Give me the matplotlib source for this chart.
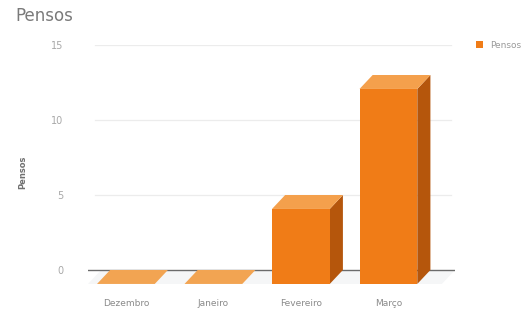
import matplotlib
matplotlib.use("Agg")
import matplotlib.pyplot as plt
from matplotlib.patches import Polygon, Patch

# ---- data ----
categories = ["Dezembro", "Janeiro", "Fevereiro", "Março"]
values = [0, 0, 5, 13]
series_name = "Pensos"
y_ticks = [0, 5, 10, 15]
title = "Pensos"
y_label = "Pensos"

# ---- style ----
W, H, DPI = 529, 312, 100
BAR_W = 0.66
DX = 0.15      # depth offset (category units)
DY = 0.93      # depth offset (value units)
C_FRONT = "#F07C17"
C_TOP = "#F4A04C"
C_SIDE = "#B5560C"
C_FLAT = "#F2A452"

fig = plt.figure(figsize=(W / DPI, H / DPI), dpi=DPI)
fig.patch.set_facecolor("white")

ax = fig.add_axes([88 / W, 1 - 291 / H, (455 - 88) / W, (291 - 45) / H])
ax.set_xlim(-0.583, 3.611)
ax.set_ylim(-1.4, 15)
for s in ax.spines.values():
    s.set_visible(False)
ax.set_facecolor("none")

# gridlines
for t in y_ticks[1:]:
    ax.axhline(t, xmin=0.02, xmax=0.99, color="#ececec", lw=0.9, zorder=0)

# floor
x0, x1 = ax.get_xlim()
floor = Polygon([(x0 + DX, 0), (x1, 0), (x1 - DX, -DY), (x0, -DY)],
                closed=True, facecolor="#f5f6f7", edgecolor="none", zorder=0.5)
ax.add_patch(floor)
ax.axhline(0, color="#6b6b6b", lw=1.0, zorder=1)

# bars
for i, v in enumerate(values):
    xl, xr = i - BAR_W / 2, i + BAR_W / 2
    if v > 0:
        front = [(xl - DX, -DY), (xr - DX, -DY), (xr - DX, v - DY), (xl - DX, v - DY)]
        side = [(xr - DX, -DY), (xr, 0), (xr, v), (xr - DX, v - DY)]
        top = [(xl - DX, v - DY), (xr - DX, v - DY), (xr, v), (xl, v)]
        ax.add_patch(Polygon(side, closed=True, facecolor=C_SIDE, edgecolor="none", zorder=3))
        ax.add_patch(Polygon(front, closed=True, facecolor=C_FRONT, edgecolor="none", zorder=3))
        ax.add_patch(Polygon(top, closed=True, facecolor=C_TOP, edgecolor="none", zorder=3))
    else:
        top = [(xl - DX, v - DY), (xr - DX, v - DY), (xr, v), (xl, v)]
        ax.add_patch(Polygon(top, closed=True, facecolor=C_FLAT, edgecolor="none", zorder=3))

# ticks
ax.set_xticks([i - DX for i in range(len(categories))])
ax.set_xticklabels(categories, fontsize=6.5, color="#8a8a8a")
ax.set_yticks(y_ticks)
ax.set_yticklabels([str(t) for t in y_ticks], fontsize=7, color="#a8a8a8")
ax.tick_params(axis="x", length=0, pad=6)
ax.tick_params(axis="y", length=0, pad=18)

# y label
fig.text(23 / W, 1 - 172 / H, y_label, rotation=90, fontsize=6, fontweight="bold",
         color="#707070", ha="center", va="center")

# title
fig.text(15 / W, 1 - 16 / H, title, fontsize=12, color="#7a7a7a", ha="left", va="center")

# legend
leg = fig.legend(handles=[Patch(facecolor=C_FRONT, edgecolor="none", label=series_name)],
                 loc="center left", bbox_to_anchor=(472 / W, 1 - 45 / H), frameon=False,
                 fontsize=6.5, handlelength=0.8, handleheight=0.8, handletextpad=0.8,
                 borderaxespad=0)
for t in leg.get_texts():
    t.set_color("#9a9a9a")

fig.savefig("out.png", dpi=DPI, facecolor="white")
